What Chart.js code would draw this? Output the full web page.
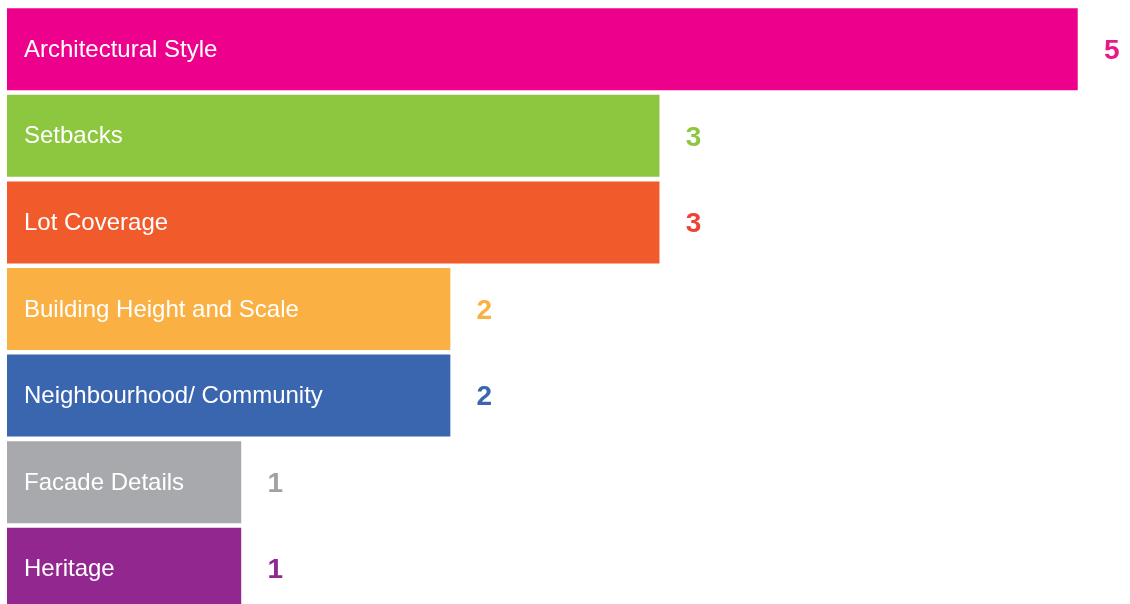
<!DOCTYPE html>
<html>
<head>
<meta charset="utf-8">
<script src="https://cdn.jsdelivr.net/npm/chart.js@4.4.1/dist/chart.umd.min.js"></script>
<style>
  html, body { margin: 0; padding: 0; background: #fff; overflow: hidden; }
  #wrap { position: absolute; left: 0; top: 0; width: 1130px; height: 615px; }
</style>
</head>
<body>
<div id="wrap"><canvas id="myChart"></canvas></div>
<script>
const categories = [
    "Architectural Style",
    "Setbacks",
    "Lot Coverage",
    "Building Height and Scale",
    "Neighbourhood/ Community",
    "Facade Details",
    "Heritage"
];
const counts = [5, 3, 3, 2, 2, 1, 1];
const barColors = ["#EC008C", "#8DC63F", "#F15A2B", "#FBB044", "#3A66B0", "#A7A9AC", "#92278F"];
const valueColors = ["#E8178A", "#8DC63F", "#EF4136", "#FBB044", "#3A66B0", "#A0A2A5", "#92278F"];
const axisMin = -0.12;
const axisMax = 5.25;

// labels inside bars + value numbers after the bar end
const barText = {
    id: 'barText',
    afterDatasetsDraw(chart) {
        const ctx = chart.ctx;
        const meta = chart.getDatasetMeta(0);
        ctx.save();
        ctx.textBaseline = 'middle';
        meta.data.forEach((bar, i) => {
            ctx.font = '24px "Liberation Sans", Arial, sans-serif';
            ctx.fillStyle = '#ffffff';
            ctx.textAlign = 'left';
            ctx.fillText(categories[i], 24, bar.y + 1);

            ctx.font = 'bold 28px "Liberation Sans", Arial, sans-serif';
            ctx.fillStyle = valueColors[i];
            ctx.textAlign = 'center';
            ctx.fillText(String(counts[i]), bar.x + 34, bar.y + 2);
        });
        ctx.restore();
    }
};

const canvas = document.getElementById('myChart');
const chart = new Chart(canvas, {
    type: 'bar',
    data: {
        labels: categories,
        datasets: [{
            data: counts,
            base: axisMin,
            backgroundColor: barColors,
            borderWidth: 0,
            barPercentage: 0.947,
            categoryPercentage: 1
        }]
    },
    options: {
        indexAxis: 'y',
        responsive: true,
        maintainAspectRatio: false,
        animation: false,
        layout: { padding: { top: 6, bottom: 3, left: 7, right: 0 } },
        plugins: {
            legend: { display: false },
            tooltip: { enabled: false }
        },
        scales: {
            x: { display: false, min: axisMin, max: axisMax, grid: { display: false } },
            y: { display: false, grid: { display: false } }
        }
    },
    plugins: [barText]
});
</script>
</body>
</html>
